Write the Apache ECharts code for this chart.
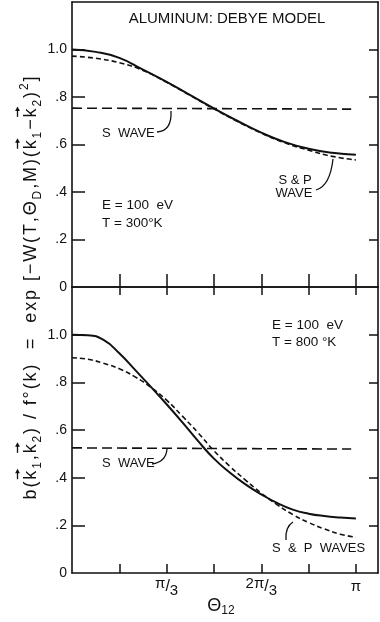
<!DOCTYPE html>
<html><head><meta charset="utf-8">
<script src="https://cdn.jsdelivr.net/npm/echarts@6/dist/echarts.min.js"></script>
<style>html,body{margin:0;padding:0;background:#fff}#c{width:380px;height:622px}</style>
</head><body><div id="c"></div>
<script>
// ---- data (theta in degrees) ----
const thetaTop = [0,15,30,45,60,75,90,105,120,135,150,165,180];
const solidTop = [1.000,0.990,0.965,0.915,0.864,0.808,0.752,0.699,0.650,0.610,0.582,0.565,0.557];
const spTop    = [0.972,0.963,0.944,0.912,0.862,0.806,0.750,0.697,0.648,0.607,0.576,0.550,0.535];
const sWaveTopTheta = [0,177];
const sWaveTop = [0.753,0.749];

const thetaBottom = [0,10,20,30,40,50,60,70,80,90,100,110,120,130,140,150,160,170,180];
const solidBottom = [1.000,0.998,0.978,0.922,0.852,0.781,0.708,0.632,0.553,0.480,0.422,0.372,0.330,0.294,0.266,0.249,0.239,0.233,0.229];
const spBottom    = [0.903,0.897,0.880,0.857,0.823,0.779,0.725,0.658,0.588,0.513,0.448,0.390,0.335,0.287,0.245,0.212,0.185,0.163,0.150];
const sWaveBottomTheta = [0,177];
const sWaveBottom = [0.525,0.520];

const yTickValues = [0.2,0.4,0.6,0.8,1.0];
const yLabelValues = [0,0.2,0.4,0.6,0.8,1.0];
const yLabelTexts = ['0','.2','.4','.6','.8','1.0'];
const xTickValues = [30,60,90,120,150,180];
const xLabelValues = [60,120,180];
const xLabelTexts = ['{a|π}{b|/}{c|3}','{n|2}{a|π}{b|/}{c|3}','{d|π}'];

// y-axis title pieces: [text, kind]  n=normal, s=subscript, p=superscript, k=vector k
const yTitleSegs = [
  ['b(','n'],['k','k'],['1','s'],[',','n'],['k','k'],['2','s'],[') / f°(k)  =  exp [−W(T,','n'],
  ['Θ','n'],['D','s'],[',M)(','n'],['k','k'],['1','s'],['−','n'],['k','k'],['2','s'],[')','n'],['2','p'],[']','n']
];

const X_MAX = 194, Y_MAX = 1.2;
const INK = '#111';
const FONT = 'Liberation Sans';

function pairs(xs, ys){ return xs.map((x,i)=>[x, ys[i]]); }

const lineAx = {show:true, onZero:false, lineStyle:{color:INK, width:1.6}};

function xAx(grid, pos, tickLen, labels){
  const a = {type:'value', gridIndex:grid, position:pos, min:0, max:X_MAX, interval:30,
    axisLine:lineAx, splitLine:{show:false},
    axisTick: tickLen ? {show:true, inside:true, length:tickLen, customValues:xTickValues, lineStyle:{color:INK,width:1.5}} : {show:false},
    axisLabel:{show:false}};
  if (labels) {
    a.axisLabel = {show:true, customValues:xLabelValues, margin:3, color:INK, fontFamily:FONT,
      formatter:(v)=>xLabelTexts[xLabelValues.indexOf(v)] || '',
      rich:{
        a:{fontSize:15, lineHeight:13, verticalAlign:'top', color:INK, fontFamily:FONT},
        b:{fontSize:16, lineHeight:22, color:INK, fontFamily:FONT},
        c:{fontSize:15, lineHeight:13, verticalAlign:'bottom', color:INK, fontFamily:FONT},
        n:{fontSize:15, lineHeight:16, verticalAlign:'top', color:INK, fontFamily:FONT},
        d:{fontSize:15, lineHeight:22, color:INK, fontFamily:FONT}
      }};
  }
  return a;
}
function yAx(grid, pos, tickLen, labels){
  const a = {type:'value', gridIndex:grid, position:pos, min:0, max:Y_MAX, interval:0.2,
    axisLine:lineAx, splitLine:{show:false},
    axisTick:{show:true, inside:true, length:tickLen, customValues:yTickValues, lineStyle:{color:INK,width:1.5}},
    axisLabel:{show:false}};
  if (labels) {
    a.axisLabel = {show:true, customValues:yLabelValues, margin:5, color:INK, fontSize:14, fontFamily:FONT,
      formatter:(v)=>{ const i = yLabelValues.findIndex(u=>Math.abs(u-v)<1e-6); return i>=0 ? yLabelTexts[i] : ''; }};
  }
  return a;
}

function curve(xi, yi, xs, ys, dash, width){
  return {type:'line', xAxisIndex:xi, yAxisIndex:yi, data:pairs(xs,ys), symbol:'none',
    smooth: xs.length>2 ? 0.5 : false, silent:true,
    lineStyle:{color:INK, width:width, type:dash}, z:3};
}

const txt = (x,y,text,size,align)=>({type:'text', x:x, y:y, silent:true,
  style:{text:text, fill:INK, fontSize:size, fontFamily:FONT, align:align||'left', verticalAlign:'middle'}});
const lead = (x1,y1,cx,cy,x2,y2)=>({type:'bezierCurve', silent:true,
  shape:{x1:x1,y1:y1,cpx1:cx,cpy1:cy,x2:x2,y2:y2}, style:{stroke:INK, lineWidth:1.3, fill:null}});

// ---- build the rotated y-axis title (per-character layout, arrows over k) ----
function buildYTitle(){
  const cv = document.createElement('canvas').getContext('2d');
  const MAIN = 18, SMALL = 12, TARGET = 423;
  const items = [];
  yTitleSegs.forEach(([t,kind])=>{
    const size = (kind==='s'||kind==='p') ? SMALL : MAIN;
    for (const ch of t) items.push({ch, kind, size});
  });
  let natural = 0;
  items.forEach(it=>{ cv.font = it.size + 'px "' + FONT + '"'; it.w = cv.measureText(it.ch).width; natural += it.w; });
  const gap = Math.max(0, (TARGET - natural) / (items.length - 1));
  let x = -TARGET/2;
  const kids = [];
  items.forEach(it=>{
    const base = it.kind==='s' ? 4.5 : (it.kind==='p' ? -8 : 0);
    kids.push({type:'text', x:x, y: base - 0.3465*it.size, silent:true,
      style:{text:it.ch, fill:INK, fontSize:it.size, fontFamily:FONT, align:'left', verticalAlign:'middle'}});
    if (it.kind==='k') {
      const ay = -19.5, ax0 = x + 0.5, ax1 = x + it.w + 1.5;
      kids.push({type:'line', silent:true, shape:{x1:ax0,y1:ay,x2:ax1-3,y2:ay}, style:{stroke:INK, lineWidth:1.3}});
      kids.push({type:'polygon', silent:true, shape:{points:[[ax1+0.5,ay],[ax1-4,ay-2.4],[ax1-4,ay+2.4]]}, style:{fill:INK}});
    }
    x += it.w + gap;
  });
  return {type:'group', x:37, y:288, rotation:Math.PI/2, silent:true, children:kids};
}

const chart = echarts.init(document.getElementById('c'), null, {renderer:'canvas'});
chart.setOption({
  animation:false,
  backgroundColor:'#fff',
  grid:[
    {left:72, top:2, width:306, height:285, outerBoundsMode:'none'},
    {left:72, top:287, width:306, height:286, outerBoundsMode:'none'}
  ],
  xAxis:[ xAx(0,'bottom',13,false), xAx(0,'top',0,false), xAx(1,'bottom',9,true), xAx(1,'top',8,false) ],
  yAxis:[ yAx(0,'left',13,true), yAx(0,'right',9,false), yAx(1,'left',13,true), yAx(1,'right',9,false) ],
  series:[
    curve(0,0,thetaTop,solidTop,'solid',2),
    curve(0,0,thetaTop,spTop,[5,3],1.6),
    curve(0,0,sWaveTopTheta,sWaveTop,[10,5],1.6),
    curve(2,2,thetaBottom,solidBottom,'solid',2),
    curve(2,2,thetaBottom,spBottom,[5,3],1.6),
    curve(2,2,sWaveBottomTheta,sWaveBottom,[10,5],1.6)
  ],
  graphic:[
    txt(227,19,'ALUMINUM: DEBYE MODEL',15,'center'),
    txt(102,133,'S  WAVE',13),
    lead(157,132,172,131,171,111),
    txt(295,180,'S & P',13,'center'),
    txt(294,193,'WAVE',13,'center'),
    lead(316,190,330,186,333,159),
    txt(102,205,'E = 100  eV',13.5),
    txt(102,223,'T = 300°K',13.5),
    txt(272,325,'E = 100  eV',13.5),
    txt(272,342,'T = 800 °K',13.5),
    txt(102,463,'S  WAVE',13),
    lead(152,464,166,462,167,449),
    txt(272,548,'S  &  P  WAVES',13),
    lead(286,540,285,527,293,522),
    {type:'text', x:221, y:606, silent:true,
      style:{text:'Θ{s|12}', fill:INK, fontSize:18, fontFamily:FONT, align:'center', verticalAlign:'middle', lineHeight:22,
        rich:{s:{fontSize:12, lineHeight:12, verticalAlign:'bottom', fill:INK, fontFamily:FONT}}}},
    buildYTitle()
  ]
});
</script></body></html>
